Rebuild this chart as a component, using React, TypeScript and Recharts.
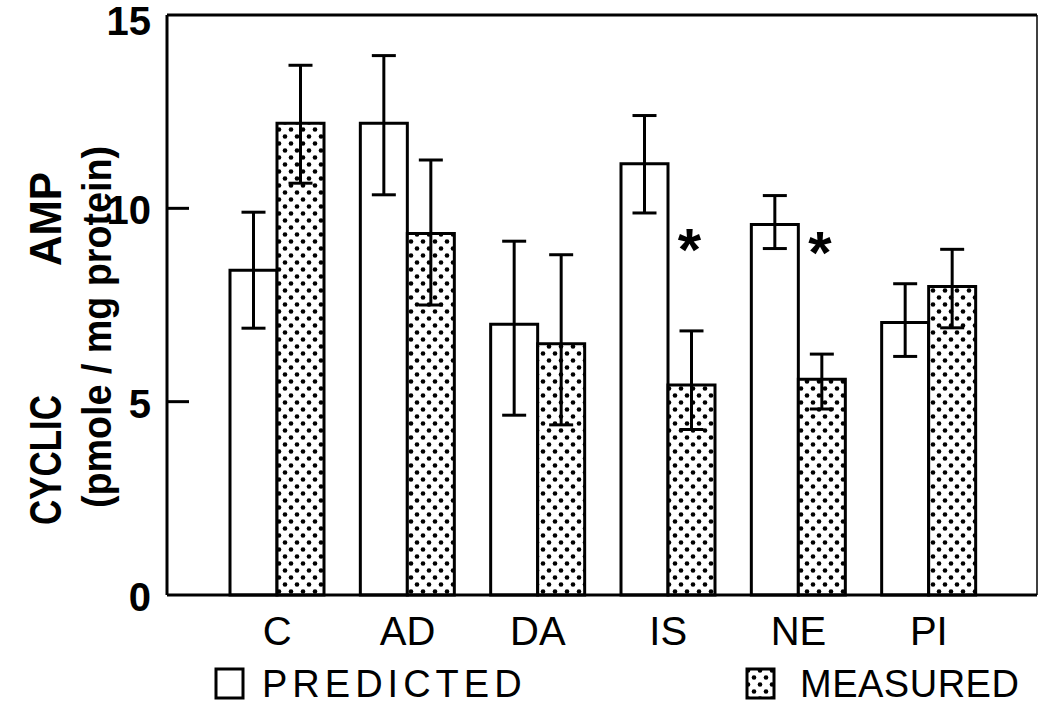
import React from 'react';
import { ComposedChart, Bar, XAxis, YAxis, ErrorBar, Legend, LabelList, ReferenceLine } from 'recharts';

const categories = ['C', 'AD', 'DA', 'IS', 'NE', 'PI'];
const predicted = [8.4, 12.2, 7.0, 11.15, 9.58, 7.05];
const predictedErr = [[1.5, 1.5], [1.85, 1.75], [2.35, 2.15], [1.27, 1.25], [0.62, 0.75], [0.88, 1.0]];
const measured = [12.2, 9.35, 6.5, 5.43, 5.58, 7.98];
const measuredErr = [[1.55, 1.5], [1.85, 1.9], [2.1, 2.3], [1.15, 1.4], [0.77, 0.65], [1.07, 0.96]];
// level of the "*" marks drawn beside the measured bars
const starLevel = [null, null, null, 9.17, 9.1, null];
const yTicks = [0, 5, 10, 15];

const data = categories.map((name, i) => ({
  name,
  predicted: predicted[i],
  predictedErr: predictedErr[i],
  measured: measured[i],
  measuredErr: measuredErr[i],
  star: starLevel[i],
}));

const FONT = '"Liberation Sans", Arial, sans-serif';

const LeftTick = (props: any) => {
  const { x, y, payload } = props;
  const v = payload.value;
  return (
    <g>
      {(v === 5 || v === 10) && <line x1={x} x2={x + 22} y1={y} y2={y} stroke="#000" strokeWidth={3} />}
      <text
        x={x - 16}
        y={y + (v === 15 ? 6 : 2)}
        textAnchor="end"
        dominantBaseline="central"
        fontFamily={FONT}
        fontWeight="bold"
        fontSize={40}
        fill="#000"
      >
        {v}
      </text>
    </g>
  );
};

const RightTick = (props: any) => {
  const { x, y, payload } = props;
  const v = payload.value;
  if (v !== 5 && v !== 10) return <g />;
  return <line x1={x - 21} x2={x} y1={y} y2={y} stroke="#000" strokeWidth={3} />;
};

const renderYLabel = () => (
  <g fontFamily={FONT} fontWeight="bold" fill="#000">
    <text
      transform="translate(45,460) rotate(-90)"
      textAnchor="middle"
      dominantBaseline="central"
      fontSize={44}
      textLength={130}
      lengthAdjust="spacingAndGlyphs"
    >
      CYCLIC
    </text>
    <text
      transform="translate(45,219) rotate(-90)"
      textAnchor="middle"
      dominantBaseline="central"
      fontSize={44}
      textLength={94}
      lengthAdjust="spacingAndGlyphs"
    >
      AMP
    </text>
    <text
      transform="translate(97,327) rotate(-90)"
      textAnchor="middle"
      dominantBaseline="central"
      fontSize={40}
      textLength={362}
      lengthAdjust="spacingAndGlyphs"
    >
      (pmole / mg protein)
    </text>
  </g>
);

const renderStar = (props: any) => {
  const { x, y, width, height, value, index } = props;
  if (value == null) return null;
  const bottom = Number(y) + Number(height);
  const perUnit = Number(height) / measured[index];
  const sy = bottom - value * perUnit;
  return (
    <text
      x={Number(x) + Number(width) / 2 - 2}
      y={sy + 30}
      textAnchor="middle"
      fontFamily={FONT}
      fontWeight="bold"
      fontSize={60}
      fill="#000"
    >
      *
    </text>
  );
};

const legendStyle: Record<string, { box: number; text: number; spacing: number; dotted: boolean }> = {
  PREDICTED: { box: 214, text: 262, spacing: 5, dotted: false },
  MEASURED: { box: 745, text: 800, spacing: 0.5, dotted: true },
};

const renderLegend = (props: any) => {
  const { payload } = props;
  return (
    <div style={{ position: 'relative', width: 1039, height: 58, fontFamily: FONT, fontSize: 38, color: '#000' }}>
      {(payload || []).map((p: any) => {
        const s = legendStyle[p.value];
        if (!s) return null;
        return (
          <React.Fragment key={p.value}>
            <svg style={{ position: 'absolute', left: s.box, top: 12 }} width={32} height={34}>
              <defs>
                <pattern id={`legdots-${p.value}`} width={12} height={14} patternUnits="userSpaceOnUse">
                  <rect width={12} height={14} fill="#fff" />
                  <circle cx={3} cy={3.5} r={2.3} fill="#000" />
                  <circle cx={9} cy={10.5} r={2.3} fill="#000" />
                </pattern>
              </defs>
              <rect
                x={2}
                y={2}
                width={27}
                height={29}
                fill={s.dotted ? `url(#legdots-${p.value})` : '#fff'}
                stroke="#000"
                strokeWidth={3}
              />
            </svg>
            <span
              style={{
                position: 'absolute',
                left: s.text,
                top: 0,
                lineHeight: '58px',
                letterSpacing: s.spacing,
                whiteSpace: 'nowrap',
              }}
            >
              {p.value}
            </span>
          </React.Fragment>
        );
      })}
    </div>
  );
};

export default function App() {
  return (
    <div style={{ position: 'absolute', left: 0, top: 0, width: 1039, height: 713, background: '#fff' }}>
      <ComposedChart
        width={1039}
        height={713}
        data={data}
        margin={{ top: 15, right: 0, bottom: 0, left: 0 }}
        barGap={0}
      >
        <defs>
          <pattern id="dots" width={12} height={14} patternUnits="userSpaceOnUse">
            <rect width={12} height={14} fill="#fff" />
            <circle cx={3} cy={3.5} r={2.3} fill="#000" />
            <circle cx={9} cy={10.5} r={2.3} fill="#000" />
          </pattern>
        </defs>
        <XAxis
          dataKey="name"
          height={60}
          padding={{ left: 45, right: 43 }}
          axisLine={{ stroke: '#000', strokeWidth: 3 }}
          tickLine={false}
          tickSize={0}
          tickMargin={22}
          tick={{ fontFamily: FONT, fontSize: 40, fill: '#000' }}
        />
        <YAxis
          type="number"
          domain={[0, 15]}
          ticks={yTicks}
          width={167}
          axisLine={{ stroke: '#000', strokeWidth: 3 }}
          tickLine={false}
          tickSize={0}
          tickMargin={0}
          tick={<LeftTick />}
          label={renderYLabel}
        />
        <YAxis
          yAxisId="right"
          orientation="right"
          type="number"
          domain={[0, 15]}
          ticks={yTicks}
          width={2}
          axisLine={{ stroke: '#000', strokeWidth: 1.5 }}
          tickLine={false}
          tickSize={0}
          tickMargin={0}
          tick={<RightTick />}
        />
        <ReferenceLine y={15} stroke="#000" strokeWidth={3} />
        <Legend
          verticalAlign="bottom"
          content={renderLegend}
          wrapperStyle={{ left: 0, bottom: 0, width: 1039, height: 58 }}
        />
        <Bar
          dataKey="predicted"
          name="PREDICTED"
          barSize={47}
          fill="#fff"
          stroke="#000"
          strokeWidth={3}
          isAnimationActive={false}
        >
          <ErrorBar dataKey="predictedErr" width={12} stroke="#000" strokeWidth={3} />
        </Bar>
        <Bar
          dataKey="measured"
          name="MEASURED"
          barSize={47}
          fill="url(#dots)"
          stroke="#000"
          strokeWidth={3}
          isAnimationActive={false}
        >
          <ErrorBar dataKey="measuredErr" width={12} stroke="#000" strokeWidth={3} />
          <LabelList dataKey="star" content={renderStar} />
        </Bar>
      </ComposedChart>
    </div>
  );
}
